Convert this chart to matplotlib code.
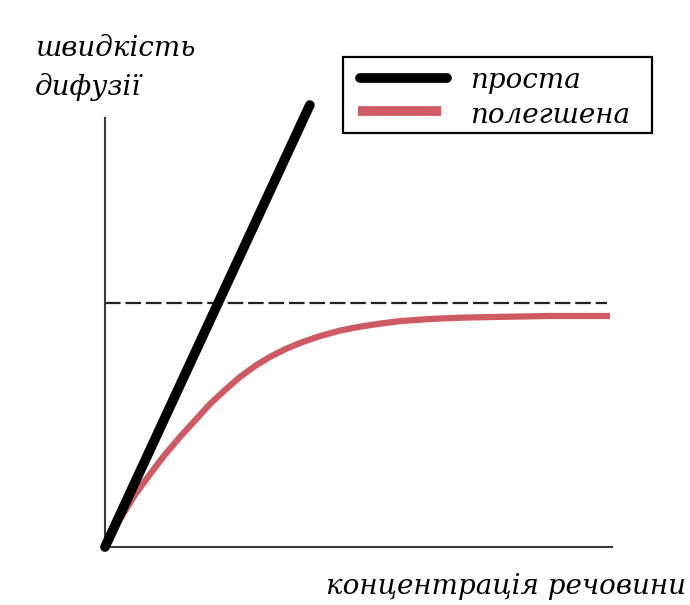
import matplotlib
matplotlib.use("Agg")
import matplotlib.pyplot as plt
from matplotlib.patches import Rectangle
from matplotlib.lines import Line2D

# Data (units)
simple_x = [0.0, 4.04]
simple_y = [0.0, 10.35]

facil_x = [0.00, 0.30, 0.59, 0.89, 1.18, 1.48, 1.78, 2.07, 2.37, 2.66, 2.96, 3.25, 3.55,
           3.85, 4.24, 4.64, 5.03, 5.42, 5.82, 6.41, 7.00, 7.79, 8.78, 9.96]
facil_y = [0.00, 0.66, 1.22, 1.71, 2.16, 2.58, 2.97, 3.35, 3.68, 3.98, 4.24, 4.45, 4.63,
           4.78, 4.94, 5.07, 5.16, 5.23, 5.29, 5.34, 5.37, 5.39, 5.41, 5.41]

vmax_x = [0.0, 9.9]
vmax_y = [5.71, 5.71]

labels = ["проста", "полегшена"]
ylabel_lines = ["швидкість", "дифузії"]
xlabel = "концентрація речовини"

W, H = 690, 605
fig = plt.figure(figsize=(W / 100, H / 100), dpi=100)
fig.patch.set_facecolor("white")

ax_l, ax_r, ax_t, ax_b = 105, 612, 118, 547
ax = fig.add_axes([ax_l / W, (H - ax_b) / H, (ax_r - ax_l) / W, (ax_b - ax_t) / H])
ax.set_xlim(0, 10)
ax.set_ylim(0, (ax_b - ax_t) / 42.7)
for s in ["top", "right"]:
    ax.spines[s].set_visible(False)
for s in ["left", "bottom"]:
    ax.spines[s].set_color("#3a3a3a")
    ax.spines[s].set_linewidth(1.5)
ax.set_xticks([])
ax.set_yticks([])

ax.plot(vmax_x, vmax_y, color="#222222", lw=1.6, ls=(0, (7, 2.2)), zorder=2)
ax.plot(facil_x, facil_y, color="#d05a64", lw=4.5, solid_capstyle="butt",
        solid_joinstyle="round", clip_on=False, zorder=3)
ax.plot(simple_x, simple_y, color="black", lw=7, solid_capstyle="round",
        clip_on=False, zorder=4)

font = dict(family="DejaVu Serif", style="italic", size=20)


def fx(px):
    return px / W


def fy(py):
    return 1 - py / H


# Legend box drawn in figure pixel positions
fig.patches.append(Rectangle((fx(343), fy(133)), fx(652) - fx(343), fy(57) - fy(133),
                             transform=fig.transFigure, fill=False, edgecolor="black",
                             linewidth=1.6, zorder=5))
fig.lines.append(Line2D([fx(360), fx(447)], [fy(78), fy(78)], transform=fig.transFigure,
                        color="black", lw=7, solid_capstyle="round"))
fig.lines.append(Line2D([fx(358), fx(441)], [fy(111), fy(111)], transform=fig.transFigure,
                        color="#d05a64", lw=7, solid_capstyle="butt"))
fig.text(fx(470), fy(88), labels[0], ha="left", va="baseline", **font)
fig.text(fx(470), fy(123), labels[1], ha="left", va="baseline", **font)

fig.text(fx(35), fy(56), ylabel_lines[0], ha="left", va="baseline", **font)
fig.text(fx(35), fy(95), ylabel_lines[1], ha="left", va="baseline", **font)
fig.text(fx(686), fy(594), xlabel, ha="right", va="baseline", **font)

fig.savefig("out.png", dpi=100, facecolor="white")
